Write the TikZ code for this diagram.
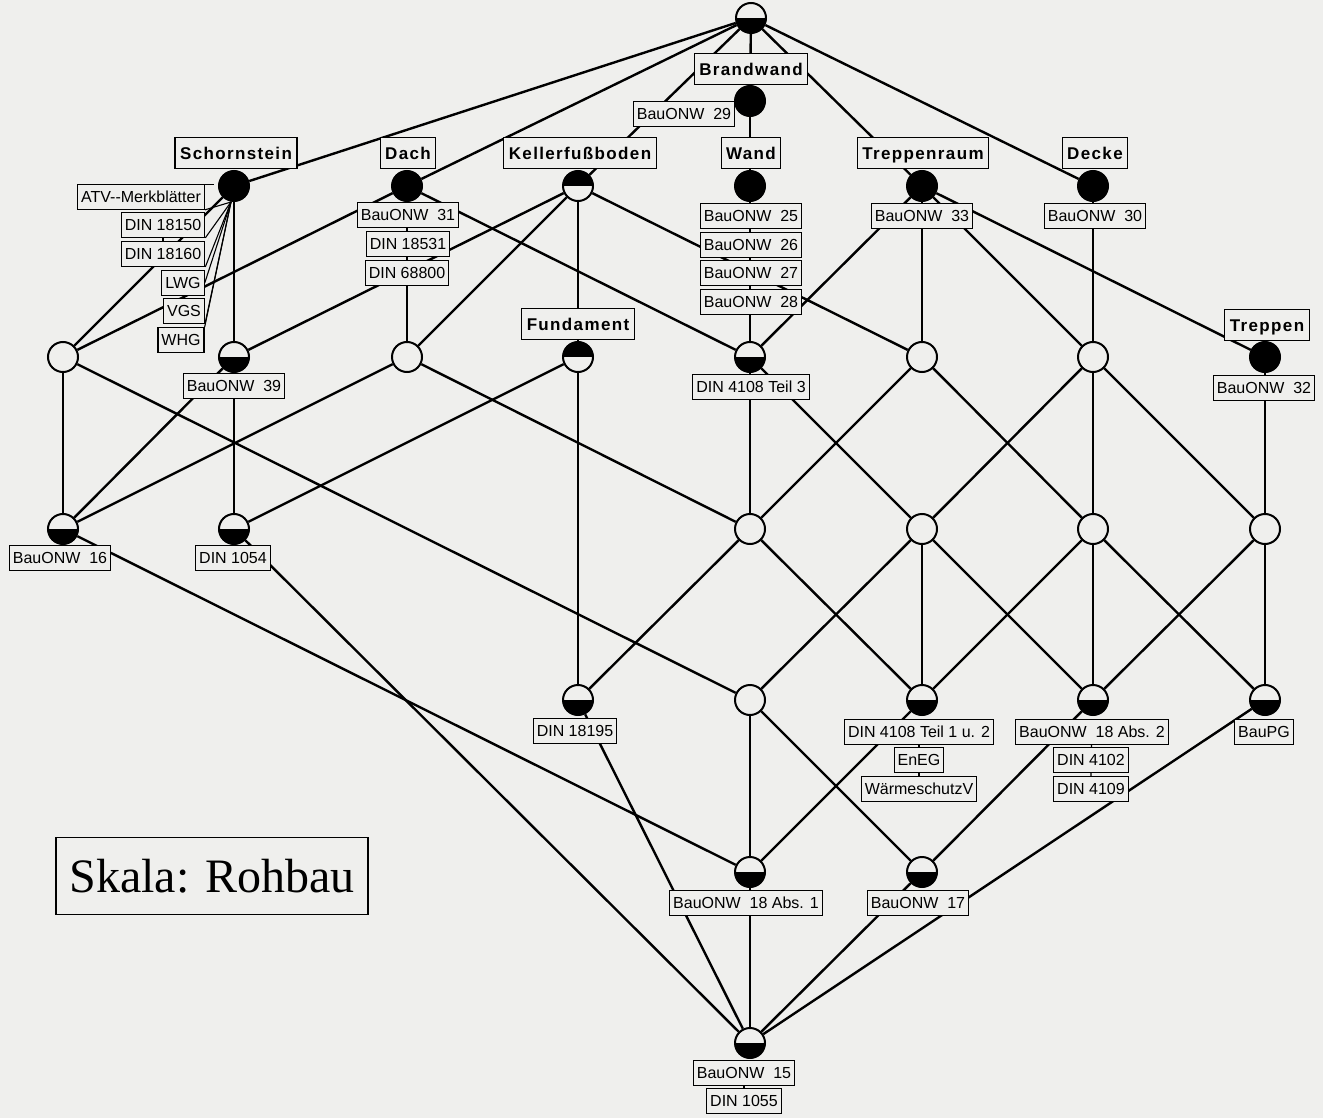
\documentclass[tikz,border=0pt]{standalone}
\usepackage{fontspec}
\setmainfont{Liberation Sans}
\newfontfamily\attrfont[LetterSpace=8]{Liberation Sans}
\newfontfamily\skalafont{Liberation Serif}
\definecolor{paper}{RGB}{239,239,237}
\pgfdeclarelayer{sheet}
\pgfdeclarelayer{links}
\pgfsetlayers{sheet,links,main}
\begin{document}
\begin{tikzpicture}[x=1pt,y=-1pt,
  link/.style={line width=2.4pt},
  leader/.style={line width=1.1pt},
  concept/.style={circle, draw, line width=2pt, minimum size=30pt, inner sep=0pt, fill=paper},
  full/.style={concept, fill=black},
  lowhalf/.style={concept, path picture={\fill[black] (path picture bounding box.west) rectangle (path picture bounding box.south east);}},
  uphalf/.style={concept, path picture={\fill[black] (path picture bounding box.west) rectangle (path picture bounding box.north east);}},
  objlab/.style={draw, line width=1.2pt, fill=paper, font=\fontsize{16}{18}\selectfont,
    inner xsep=3.5pt, inner ysep=0pt, minimum height=24.5pt, text height=11.5pt, text depth=0pt},
  attrlab/.style={draw, line width=1.2pt, fill=paper, font=\attrfont\bfseries\fontsize{17}{20}\selectfont,
    inner xsep=5pt, inner ysep=0pt, minimum height=31pt, text height=12.5pt, text depth=0pt}]

\useasboundingbox (0,0) rectangle (1323,1118);
\begin{pgfonlayer}{sheet}
\fill[paper] (0,0) rectangle (1323,1118);
\end{pgfonlayer}

% ---- concepts ----
\node[lowhalf] (T) at (751,18) {};
\node[full] (B) at (750,101) {};
\node[full] (W) at (750,186) {};
\node[full] (S) at (234,186) {};
\node[full] (D) at (407,186) {};
\node[uphalf] (K) at (578,186) {};
\node[full] (TR) at (922,186) {};
\node[full] (DE) at (1093,186) {};
\node[concept] (L1) at (63,357) {};
\node[lowhalf] (N39) at (234,357) {};
\node[concept] (L3) at (407,357) {};
\node[uphalf] (F) at (578,357) {};
\node[lowhalf] (T3) at (750,357) {};
\node[concept] (L5) at (922,357) {};
\node[concept] (L6) at (1093,357) {};
\node[full] (TP) at (1265,357) {};
\node[lowhalf] (N16) at (63,529) {};
\node[lowhalf] (N1054) at (234,529) {};
\node[concept] (M1) at (750,529) {};
\node[concept] (M2) at (922,529) {};
\node[concept] (M3) at (1093,529) {};
\node[concept] (M4) at (1265,529) {};
\node[lowhalf] (N18195) at (578,700) {};
\node[concept] (P1) at (750,700) {};
\node[lowhalf] (T1) at (922,700) {};
\node[lowhalf] (A2) at (1093,700) {};
\node[lowhalf] (PG) at (1265,700) {};
\node[lowhalf] (A1) at (750,872) {};
\node[lowhalf] (N17) at (922,872) {};
\node[lowhalf] (BOT) at (750,1043) {};

% ---- attribute labels ----
\node[attrlab] (aBrand) at (751,69) {Brandwand};
\node[attrlab] (aSchorn) at (236,153) {Schornstein};
\node[attrlab] (aDach) at (408,153) {Dach};
\node[attrlab] (aKeller) at (580,153) {Kellerfußboden};
\node[attrlab] (aWand) at (751,153) {Wand};
\node[attrlab] (aTrRaum) at (923,153) {Treppenraum};
\node[attrlab] (aDecke) at (1095,153) {Decke};
\node[attrlab] (aTreppen) at (1267,325) {Treppen};
\node[attrlab] (aFund) at (578,324) {Fundament};

% ---- object labels ----
\node[objlab] (o29) at (684,114) {BauONW~~29};
\node[objlab] (o25) at (751,216) {BauONW~~25};
\node[objlab] (o26) at (751,245) {BauONW~~26};
\node[objlab] (o27) at (751,273) {BauONW~~27};
\node[objlab] (o28) at (751,302) {BauONW~~28};
\node[objlab] (oT3) at (751,387) {DIN 4108 Teil 3};
\node[objlab] (o31) at (408,215) {BauONW~~31};
\node[objlab] (o18531) at (408,244) {DIN 18531};
\node[objlab] (o68800) at (407,273) {DIN 68800};
\node[objlab] (o39) at (234,386) {BauONW~~39};
\node[objlab] (o33) at (922,216) {BauONW~~33};
\node[objlab] (o30) at (1095,216) {BauONW~~30};
\node[objlab] (o32) at (1264,388) {BauONW~~32};
\node[objlab] (o16) at (60,558) {BauONW~~16};
\node[objlab] (o1054) at (233,558) {DIN 1054};
\node[objlab] (o18195) at (575,731) {DIN 18195};
\node[objlab] (oT1) at (919,732) {DIN 4108 Teil 1 u. 2};
\node[objlab] (oEnEG) at (919,760) {EnEG};
\node[objlab] (oWV) at (919,789) {WärmeschutzV};
\node[objlab] (oA2) at (1092,732) {BauONW~~18 Abs. 2};
\node[objlab] (o4102) at (1091,760) {DIN 4102};
\node[objlab] (o4109) at (1091,789) {DIN 4109};
\node[objlab] (oPG) at (1264,732) {BauPG};
\node[objlab] (oA1) at (746,903) {BauONW~~18 Abs. 1};
\node[objlab] (o17) at (918,903) {BauONW~~17};
\node[objlab] (o15) at (744,1073) {BauONW~~15};
\node[objlab] (o1055) at (744,1101) {DIN 1055};

% objects of the chimney concept, listed beside it
\node[objlab] (oATV) at (141,197) {ATV-{}-Merkblätter};
\node[objlab] (o18150) at (163,225) {DIN 18150};
\node[objlab] (o18160) at (163,254) {DIN 18160};
\node[objlab] (oLWG) at (183,283) {LWG};
\node[objlab] (oVGS) at (184,311) {VGS};
\node[objlab] (oWHG) at (181,340) {WHG};

% scale caption
\node[draw, line width=1.2pt, fill=paper, minimum width=312pt, minimum height=77pt,
      font=\skalafont\fontsize{48}{52}\selectfont] (skala) at (212,876) {Skala: Rohbau};

% ---- lattice lines ----
\begin{pgfonlayer}{links}
\foreach \a/\b in {T/S, T/D, T/K, T/B, T/TR, T/DE,
  B/W, W/T3,
  S/N39, S/L1,
  D/L3, D/L1, D/T3,
  K/F, K/L5, K/N39, K/L3,
  TR/T3, TR/L5, TR/L6, TR/TP,
  DE/L6, TP/M4,
  L1/N16, L1/P1,
  N39/N16, N39/N1054,
  L3/N16, L3/M1,
  F/N1054, F/N18195,
  T3/M1, T3/M2,
  L5/M1, L5/M3,
  L6/M2, L6/M3, L6/M4,
  N16/A1, N1054/BOT,
  M1/N18195, M1/T1,
  M2/T1, M2/P1, M2/A2,
  M3/T1, M3/A2, M3/PG,
  M4/A2, M4/PG,
  N18195/BOT, P1/A1, P1/N17, T1/A1, A2/N17, PG/BOT,
  A1/BOT, N17/BOT}
  \draw[link] (\a) -- (\b);

% ticks joining stacked labels
\draw[leader] (o15) -- (o1055);
\draw[leader] (oT1) -- (oEnEG) -- (oWV);
\draw[leader] (oA2) -- (o4102) -- (o4109);
\draw[leader] (o18150) -- (o18160);
\draw[leader] (oLWG) -- (oVGS);

% fan of leaders from the chimney concept to its objects
\coordinate (sfan) at (231,202);
\draw[leader] (sfan) -- (oATV.south east);
\draw[leader] (sfan) -- (o18150.south east);
\draw[leader] (sfan) -- (o18160.south east);
\draw[leader] (sfan) -- (oLWG.east);
\draw[leader] (sfan) -- (oVGS.south east);
\draw[leader] (sfan) -- (oWHG.north east);
\draw[leader] (oATV.north east) -- ++(9,0);
\end{pgfonlayer}
\end{tikzpicture}
\end{document}
